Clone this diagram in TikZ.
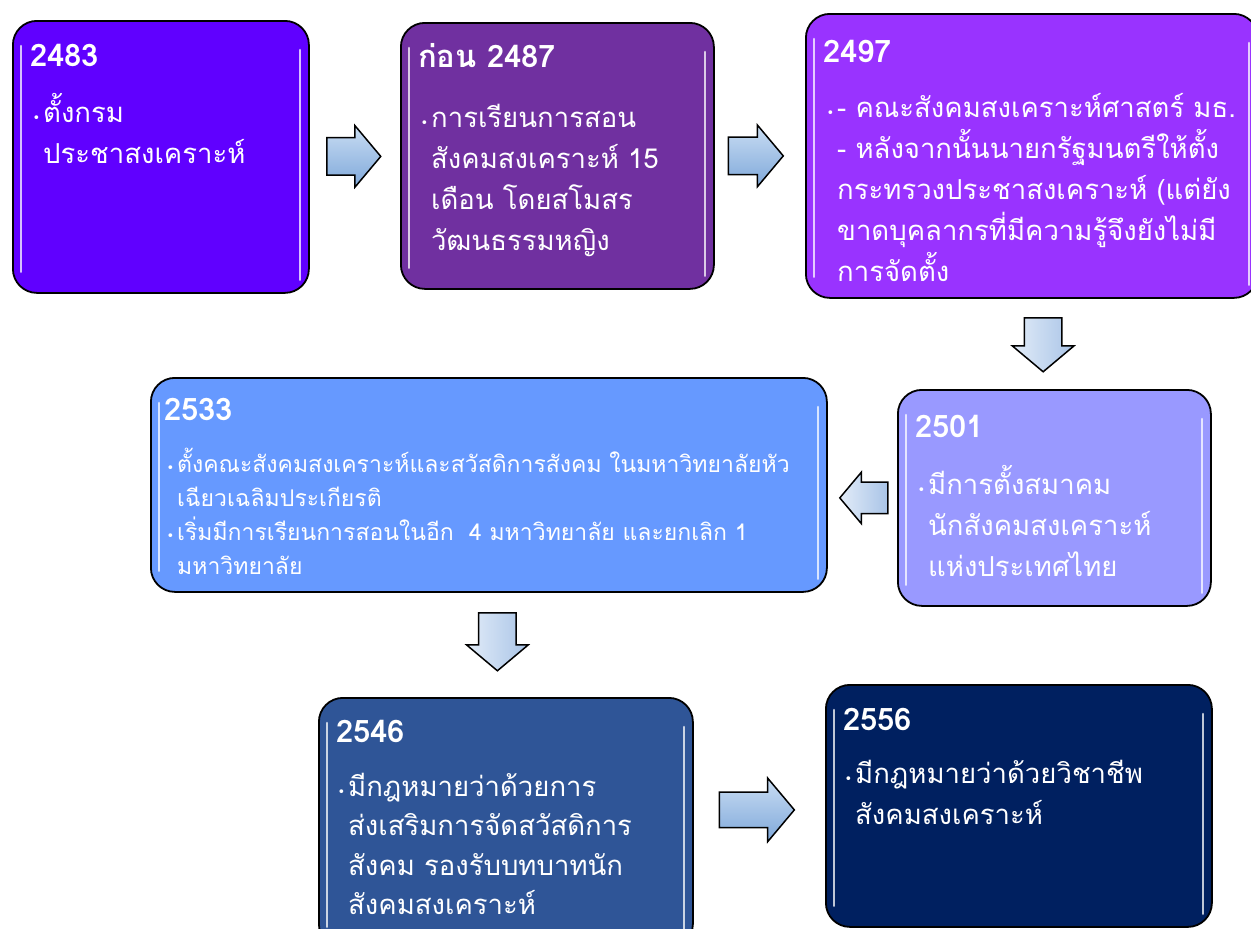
\documentclass[tikz,border=0pt]{standalone}
\usepackage{fontspec}
\setmainfont[Script=Thai]{Loma}
\newfontfamily\symf{DejaVu Sans}
\usetikzlibrary{shapes.arrows,calc}
\definecolor{cA}{HTML}{6000FF}
\definecolor{cB}{HTML}{7030A0}
\definecolor{cC}{HTML}{9933FF}
\definecolor{cD}{HTML}{9999FF}
\definecolor{cE}{HTML}{6699FF}
\definecolor{cF}{HTML}{2F5597}
\definecolor{cG}{HTML}{002060}
\definecolor{arDark}{HTML}{7FA8DA}
\definecolor{arLight}{HTML}{C9DDF3}
\definecolor{arPale}{HTML}{E2ECF8}
\definecolor{arMid}{HTML}{A9C4E7}
\newcommand\bul{\leavevmode\llap{{\symf\fontsize{13}{13}\selectfont •}\hspace{3pt}}}
\newcommand\boxgloss[1]{%
  \draw[glint] ($(#1.north west)+(9,26)$) -- ($(#1.south west)+(9,-22)$);
  \draw[glint] ($(#1.north east)+(-10,30)$) -- ($(#1.south east)+(-10,-14)$);}
\tikzset{
  tbox/.style={draw=black, line width=1.8pt, rounded corners=24pt, anchor=north west,
    inner sep=0pt, minimum width=#1},
  glint/.style={white, line width=2.6pt, line cap=round, opacity=0.75},
  head/.style={anchor=base west, inner sep=0pt, text=white,
    font=\bfseries\fontsize{31}{33}\selectfont},
  body/.style={anchor=base west, inner sep=0pt, text=white, align=left,
    text width=#1, font=\fontsize{27.5}{41}\selectfont},
  smallbody/.style={anchor=base west, inner sep=0pt, text=white, align=left,
    text width=#1, font=\fontsize{23}{34}\selectfont},
  rarrow/.style={single arrow, draw=black, line width=1.5pt, inner sep=18pt,
    single arrow head extend=12pt, single arrow tip angle=100,
    top color=arLight, bottom color=arDark},
  parrow/.style={single arrow, draw=black, line width=1.5pt, inner sep=18pt,
    single arrow head extend=12pt, single arrow tip angle=100,
    left color=arPale, right color=arMid},
}
\begin{document}
\begin{tikzpicture}[x=1pt,y=-1pt]
\useasboundingbox (0,0) rectangle (1251,929);
% boxes
\node[tbox=296pt, minimum height=272pt, fill=cA] (b1) at (12,20) {};
\node[tbox=313pt, minimum height=266pt, fill=cB] (b2) at (400,22) {};
\node[tbox=452pt, minimum height=284pt, fill=cC] (b3) at (805,13) {};
\node[tbox=313pt, minimum height=216pt, fill=cD] (b4) at (897,389) {};
\node[tbox=676pt, minimum height=214pt, fill=cE] (b5) at (150,377) {};
\node[tbox=374pt, minimum height=250pt, fill=cF] (b6) at (318,697) {};
\node[tbox=386pt, minimum height=242pt, fill=cG] (b7) at (825,684) {};
\boxgloss{b1}\boxgloss{b2}\boxgloss{b3}\boxgloss{b4}\boxgloss{b5}\boxgloss{b6}\boxgloss{b7}
% texts
\node[head] (h1) at (30,66) {2483};
\node[body=260pt] (t1) at (43,122) {\bul ตั้งกรม\\ประชาสงเคราะห์};
\node[head] (h2) at (418,67) {ก่อน 2487};
\node[body=280pt] (t2) at (431,127) {\bul การเรียนการสอน\\สังคมสงเคราะห์ 15\\เดือน โดยสโมสร\\วัฒนธรรมหญิง};
\node[head] (h3) at (823,62) {2497};
\node[body=430pt] (t3) at (837,117) {\bul - คณะสังคมสงเคราะห์ศาสตร์ มธ.\\- หลังจากนั้นนายกรัฐมนตรีให้ตั้ง\\กระทรวงประชาสงเคราะห์ (แต่ยัง\\ขาดบุคลากรที่มีความรู้จึงยังไม่มี\\การจัดตั้ง};
\node[head] (h4) at (915,437) {2501};
\node[body=280pt] (t4) at (928,494) {\bul มีการตั้งสมาคม\\นักสังคมสงเคราะห์\\แห่งประเทศไทย};
\node[head] (h5) at (164,420) {2533};
\node[smallbody=640pt] (t5) at (177,472) {\bul ตั้งคณะสังคมสงเคราะห์และสวัสดิการสังคม ในมหาวิทยาลัยหัว\\เฉียวเฉลิมประเกียรติ\\\bul เริ่มมีการเรียนการสอนในอีก\ \ 4 มหาวิทยาลัย และยกเลิก 1\\มหาวิทยาลัย};
\node[head] (h6) at (336,742) {2546};
\node[body=340pt, font=\fontsize{27.5}{39.5}\selectfont] (t6) at (348,796) {\bul มีกฎหมายว่าด้วยการ\\ส่งเสริมการจัดสวัสดิการ\\สังคม รองรับบทบาทนัก\\สังคมสงเคราะห์};
\node[head] (h7) at (843,730) {2556};
\node[body=350pt] (t7) at (855,783) {\bul มีกฎหมายว่าด้วยวิชาชีพ\\สังคมสงเคราะห์};
% arrows
\node[rarrow, minimum height=54pt] (a1) at ($(b1.east)!0.5!(b2.west)+(-9,0)$) {};
\node[rarrow, minimum height=55pt] (a2) at ($(b2.east)!0.5!(b3.west)+(-12,0)$) {};
\node[parrow, rotate=-90, minimum height=54pt] (a3) at ($(b3.south)!0.5!(b4.north)+(0,-7)$) {};
\node[parrow, rotate=180, minimum height=48pt, inner sep=15pt, single arrow head extend=10pt] (a4) at ($(b5.east |- b4.west)!0.5!(b4.west)+(8,0)$) {};
\node[parrow, rotate=-90, minimum height=58pt] (a5) at ($(b5.south)!0.5!(b6.north)+(0,-11)$) {};
\node[rarrow, minimum height=75pt, inner sep=17pt, single arrow head extend=14pt] (a6) at ($(b6.east |- b7.west)!0.5!(b7.west)+(-10,4)$) {};
\end{tikzpicture}
\end{document}
